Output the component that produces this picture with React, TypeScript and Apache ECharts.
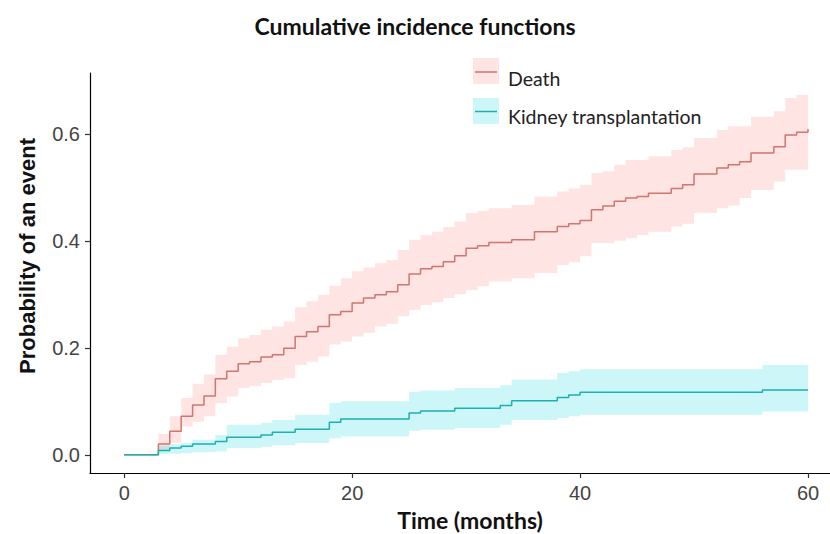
import React, { useEffect, useRef } from "react";
import * as echarts from "echarts";

// Time points (months)
const months = [
  0, 1, 2, 3, 4, 5, 6, 7, 8, 9, 10, 11, 12, 13, 14, 15, 16, 17, 18, 19, 20,
  21, 22, 23, 24, 25, 26, 27, 28, 29, 30, 31, 32, 33, 34, 35, 36, 37, 38, 39, 40,
  41, 42, 43, 44, 45, 46, 47, 48, 49, 50, 51, 52, 53, 54, 55, 56, 57, 58, 59, 60,
];

// Death: cumulative incidence and confidence band
const deathCif = [
  0, 0, 0, 0.02, 0.044, 0.072, 0.093, 0.11, 0.142, 0.156, 0.17, 0.174, 0.183, 0.187, 0.199,
  0.221, 0.23, 0.24, 0.262, 0.268, 0.284, 0.293, 0.299, 0.305, 0.318, 0.338, 0.348, 0.352,
  0.361, 0.372, 0.386, 0.391, 0.397, 0.397, 0.402, 0.402, 0.417, 0.417, 0.427, 0.432, 0.438,
  0.458, 0.465, 0.474, 0.48, 0.483, 0.489, 0.489, 0.498, 0.505, 0.525, 0.525, 0.536, 0.542,
  0.548, 0.564, 0.564, 0.576, 0.598, 0.603, 0.609,
];
const deathUpper = [
  0, 0, 0, 0.039, 0.072, 0.106, 0.133, 0.15, 0.187, 0.202, 0.218, 0.224, 0.234, 0.24, 0.249,
  0.276, 0.287, 0.299, 0.316, 0.33, 0.343, 0.35, 0.358, 0.364, 0.383, 0.402, 0.411, 0.417,
  0.426, 0.436, 0.452, 0.456, 0.461, 0.461, 0.467, 0.467, 0.483, 0.483, 0.492, 0.498, 0.505,
  0.527, 0.53, 0.542, 0.551, 0.551, 0.558, 0.558, 0.57, 0.575, 0.592, 0.592, 0.607, 0.614,
  0.614, 0.632, 0.632, 0.642, 0.667, 0.673, 0.673,
];
const deathLower = [
  0, 0, 0, 0.008, 0.022, 0.053, 0.062, 0.072, 0.097, 0.109, 0.125, 0.128, 0.134, 0.14, 0.143,
  0.168, 0.174, 0.184, 0.206, 0.212, 0.221, 0.228, 0.24, 0.245, 0.259, 0.271, 0.28, 0.285,
  0.293, 0.3, 0.308, 0.315, 0.324, 0.324, 0.33, 0.33, 0.34, 0.34, 0.355, 0.36, 0.371,
  0.396, 0.396, 0.4, 0.405, 0.411, 0.417, 0.417, 0.427, 0.432, 0.452, 0.452, 0.461, 0.466,
  0.48, 0.495, 0.495, 0.511, 0.533, 0.533, 0.533,
];

// Kidney transplantation: cumulative incidence and confidence band
const kidneyCif = [
  0, 0, 0, 0.008, 0.0125, 0.016, 0.02, 0.02, 0.025, 0.033, 0.033, 0.033, 0.037, 0.042, 0.042,
  0.048, 0.048, 0.048, 0.061, 0.067, 0.067, 0.067, 0.067, 0.067, 0.067, 0.078, 0.082, 0.082,
  0.082, 0.087, 0.087, 0.087, 0.087, 0.092, 0.101, 0.101, 0.101, 0.101, 0.107, 0.112, 0.117,
  0.117, 0.117, 0.117, 0.117, 0.117, 0.117, 0.117, 0.117, 0.117, 0.117, 0.117, 0.117, 0.117,
  0.117, 0.117, 0.121, 0.121, 0.121, 0.121, 0.121,
];
const kidneyUpper = [
  0, 0, 0, 0.017, 0.02, 0.022, 0.028, 0.028, 0.037, 0.056, 0.056, 0.056, 0.06, 0.065, 0.065,
  0.075, 0.075, 0.075, 0.097, 0.1, 0.1, 0.1, 0.1, 0.1, 0.1, 0.118, 0.12, 0.12,
  0.12, 0.125, 0.125, 0.125, 0.125, 0.13, 0.141, 0.141, 0.141, 0.141, 0.153, 0.156, 0.16,
  0.16, 0.16, 0.16, 0.16, 0.16, 0.16, 0.16, 0.16, 0.16, 0.16, 0.16, 0.16, 0.16,
  0.16, 0.16, 0.168, 0.168, 0.168, 0.168, 0.168,
];
const kidneyLower = [
  0, 0, 0, 0.001, 0.002, 0.003, 0.005, 0.005, 0.006, 0.0125, 0.0125, 0.0125, 0.015, 0.018, 0.018,
  0.022, 0.022, 0.022, 0.031, 0.034, 0.034, 0.034, 0.034, 0.034, 0.034, 0.045, 0.047, 0.047,
  0.047, 0.05, 0.05, 0.05, 0.05, 0.056, 0.065, 0.065, 0.065, 0.065, 0.069, 0.072, 0.075,
  0.075, 0.075, 0.075, 0.075, 0.075, 0.075, 0.075, 0.075, 0.075, 0.075, 0.075, 0.075, 0.075,
  0.075, 0.075, 0.081, 0.081, 0.081, 0.081, 0.081,
];

const xTicks = [0, 20, 40, 60];
const yTicks = [0, 0.2, 0.4, 0.6];
const seriesNames = ["Death", "Kidney transplantation"];

const DEATH_LINE = "#D0756F";
const DEATH_FILL = "rgba(248,118,109,0.2)";
const KID_LINE = "#1FAFB0";
const KID_FILL = "rgba(0,210,220,0.2)";

const tickFont = "'Liberation Sans', Arial, sans-serif";

function pairs(vals: number[]) {
  return months.map((m, i) => [m, vals[i]]);
}

// Build a stepped ribbon polygon through the axes' scales
function bandSeries(name: string, lower: number[], upper: number[], fill: string) {
  const data = months.map((m, i) => [m, lower[i], upper[i]]);
  return {
    name,
    type: "custom",
    silent: true,
    z: 1,
    encode: { x: 0, y: [1, 2] },
    data,
    renderItem: (params: any, api: any) => {
      if (params.dataIndex !== 0) return null;
      const pts: number[][] = [];
      for (let i = 0; i < data.length; i++) {
        const x0 = data[i][0];
        const x1 = i + 1 < data.length ? data[i + 1][0] : data[i][0];
        pts.push(api.coord([x0, data[i][2]]));
        pts.push(api.coord([x1, data[i][2]]));
      }
      for (let i = data.length - 1; i >= 0; i--) {
        const x0 = data[i][0];
        const x1 = i + 1 < data.length ? data[i + 1][0] : data[i][0];
        pts.push(api.coord([x1, data[i][1]]));
        pts.push(api.coord([x0, data[i][1]]));
      }
      return {
        type: "polygon",
        shape: { points: pts },
        style: { fill, stroke: "none" },
      };
    },
  };
}

export default function App() {
  const ref = useRef<HTMLDivElement>(null);
  useEffect(() => {
    if (!ref.current) return;
    const chart = echarts.init(ref.current, null, { renderer: "svg" });
    const option = {
      animation: false,
      backgroundColor: "#ffffff",
      title: {
        text: "Cumulative incidence functions",
        left: "center",
        top: 9,
        textStyle: { fontFamily: "Lato", fontWeight: "bold", fontSize: 23, color: "#111" },
      },
      grid: { left: 90, top: 73, right: 0, height: 400 },
      xAxis: {
        type: "value",
        min: -3,
        max: 61.93,
        axisLine: { show: true, onZero: false, lineStyle: { color: "#000", width: 1.2 } },
        axisTick: { show: true, length: 5, customValues: xTicks, lineStyle: { color: "#333", width: 1.2 } },
        axisLabel: {
          customValues: xTicks,
          margin: 10,
          fontSize: 20,
          color: "#444",
          fontFamily: tickFont,
          formatter: (v: number) => String(v),
        },
        splitLine: { show: false },
      },
      yAxis: {
        type: "value",
        min: -0.034,
        max: 0.7137,
        axisLine: { show: true, onZero: false, lineStyle: { color: "#000", width: 1.2 } },
        axisTick: { show: true, length: 5, customValues: yTicks, lineStyle: { color: "#333", width: 1.2 } },
        axisLabel: {
          customValues: yTicks,
          margin: 10,
          fontSize: 20,
          color: "#444",
          fontFamily: tickFont,
          formatter: (v: number) => v.toFixed(1),
        },
        splitLine: { show: false },
      },
      series: [
        bandSeries("deathBand", deathLower, deathUpper, DEATH_FILL),
        bandSeries("kidneyBand", kidneyLower, kidneyUpper, KID_FILL),
        {
          name: seriesNames[0],
          type: "line",
          step: "end",
          symbol: "none",
          data: pairs(deathCif),
          lineStyle: { color: DEATH_LINE, width: 1.5 },
          z: 3,
        },
        {
          name: seriesNames[1],
          type: "line",
          step: "end",
          symbol: "none",
          data: pairs(kidneyCif),
          lineStyle: { color: KID_LINE, width: 1.5 },
          z: 3,
        },
      ],
      graphic: [
        {
          type: "text",
          x: 470,
          y: 520,
          style: {
            text: "Time (months)",
            fontFamily: "Lato",
            fontWeight: "bold",
            fontSize: 23,
            fill: "#111",
            textAlign: "center",
            textVerticalAlign: "middle",
          },
        },
        {
          type: "text",
          x: 27,
          y: 256,
          rotation: Math.PI / 2,
          style: {
            text: "Probability of an event",
            fontFamily: "'Liberation Sans', Arial, sans-serif",
            fontWeight: "bold",
            fontSize: 22,
            fill: "#111",
            textAlign: "center",
            textVerticalAlign: "middle",
          },
        },
        { type: "rect", shape: { x: 473, y: 58, width: 26, height: 26 }, style: { fill: DEATH_FILL } },
        { type: "line", shape: { x1: 475, y1: 72, x2: 497, y2: 72 }, style: { stroke: DEATH_LINE, lineWidth: 1.5 } },
        {
          type: "text",
          x: 508,
          y: 78,
          style: { text: seriesNames[0], fontFamily: "Lato", fontSize: 19.5, fill: "#222", textVerticalAlign: "middle" },
        },
        { type: "rect", shape: { x: 473, y: 98, width: 26, height: 26 }, style: { fill: KID_FILL } },
        { type: "line", shape: { x1: 475, y1: 111.5, x2: 497, y2: 111.5 }, style: { stroke: KID_LINE, lineWidth: 1.5 } },
        {
          type: "text",
          x: 508,
          y: 116,
          style: { text: seriesNames[1], fontFamily: "Lato", fontSize: 19.5, fill: "#222", textVerticalAlign: "middle" },
        },
      ],
    };
    chart.setOption(option as any);
    return () => chart.dispose();
  }, []);
  return (
    <div
      ref={ref}
      style={{ position: "fixed", left: 0, top: 0, width: 830, height: 534, background: "#fff" }}
    />
  );
}
